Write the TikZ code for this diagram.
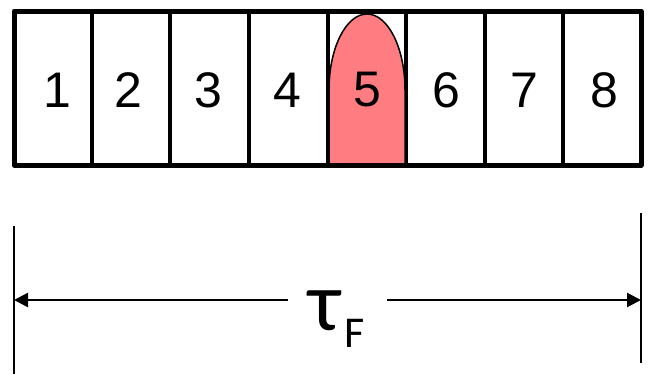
\documentclass[tikz,border=0pt]{standalone}
\usepackage{fontspec}
\setmainfont{Liberation Sans}
\newfontfamily\taufont{Carlito}
\usetikzlibrary{arrows.meta}
\definecolor{salmon}{RGB}{255,124,128}
\begin{document}
\begin{tikzpicture}[x=1pt,y=-1pt,
  numlabel/.style={inner sep=0pt,font=\fontsize{50}{50}\selectfont},
  dimline/.style={line width=2.5pt},
  dimarrow/.style={line width=2.5pt,-{Triangle[length=14pt,width=14pt]}}]
\useasboundingbox (0,0) rectangle (654,375);
% dividers
\foreach \x in {92,170,249,328,406,485,563}
  \draw[line width=4pt] (\x,11) -- (\x,165);
% red shape
\draw[fill=salmon,line width=1.5pt] (329,165) -- (329,90)
  arc[start angle=180,end angle=360,x radius=38,y radius=76] -- (405,165);
% outer frame
\draw[line width=5pt,line join=round] (14,11) rectangle (641,165);
% numbers
\foreach \i/\x in {1/57,2/128,3/208,4/287,5/367,6/446,7/524,8/604}
  \node[numlabel] (n\i) at (\x,90) {\i};
% dimension
\coordinate (L1) at (14,226);
\coordinate (L2) at (14,374);
\coordinate (R1) at (641,213);
\coordinate (R2) at (641,363);
\coordinate (La) at (14,300);
\coordinate (Ra) at (641,300);
\coordinate (Lb) at (288,300);
\coordinate (Rb) at (387,300);
\draw[dimline] (L1) -- (L2);
\draw[dimline] (R1) -- (R2);
\draw[dimarrow] (Lb) -- (La);
\draw[dimarrow] (Rb) -- (Ra);
\node[inner sep=0pt,anchor=base,font=\taufont\fontsize{84}{84}\selectfont] (tau) at (325,330) {τ};
\node[inner sep=0pt,anchor=base west,font=\taufont\fontsize{44}{44}\selectfont] (F) at (344,347) {F};
\end{tikzpicture}
\end{document}
